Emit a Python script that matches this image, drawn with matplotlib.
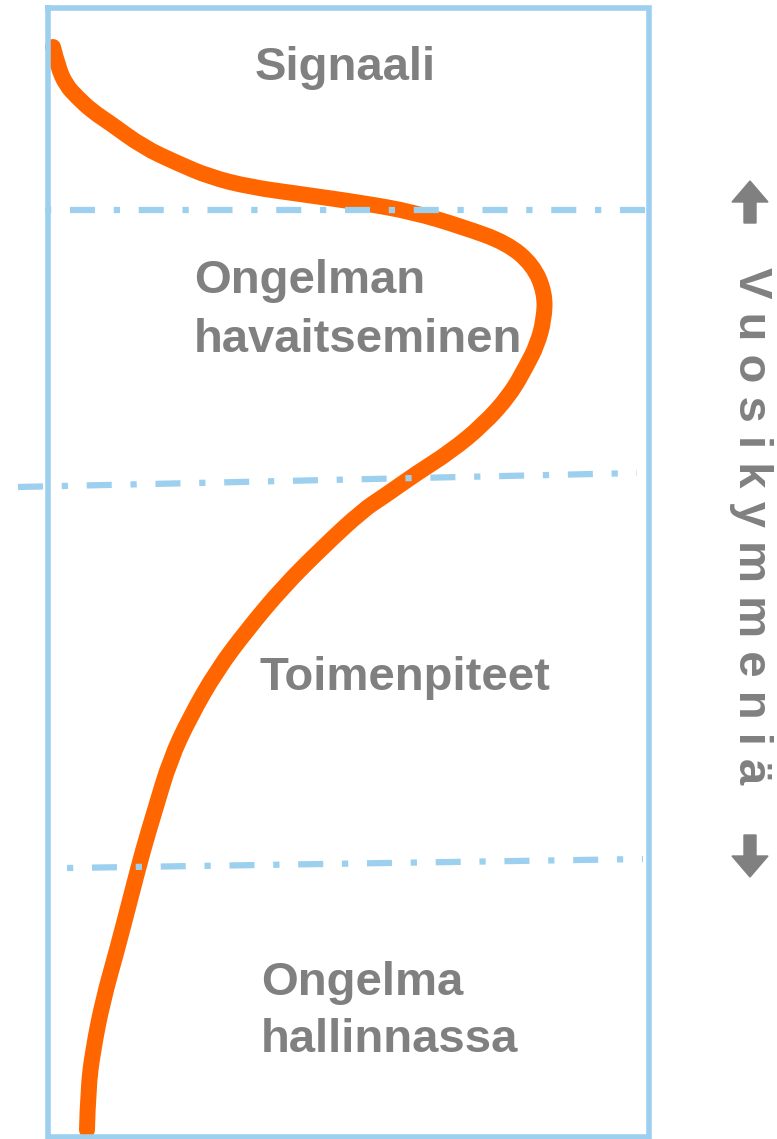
import matplotlib.pyplot as plt
from matplotlib.path import Path
from matplotlib.patches import PathPatch

# curve (x, y), y grows downwards
curve_x = [53, 58, 66, 77, 92, 110, 143, 177, 210, 250, 300, 363, 413, 463, 507, 533, 545,
           544, 537, 527, 510, 483, 450, 417, 383, 363, 323, 283, 247, 217, 190, 170, 155,
           143, 130, 117, 103, 93, 88, 87]
curve_y = [47, 67, 85, 97, 111, 123, 147, 163, 177, 187, 194, 203, 212, 227, 243, 265, 293,
           320, 345, 365, 395, 425, 452, 473, 497, 510, 547, 587, 630, 670, 717, 760, 810,
           850, 900, 950, 1000, 1050, 1090, 1130]

# phase boundaries: (x0, y0, x1, y1, dash offset)
bounds = [(45, 210, 649, 210, 7),
          (18, 487, 637, 473, 0),
          (67, 868, 643, 859, 7)]

box_x = [48, 649, 649, 48, 48]
box_y = [8, 8, 1137, 1137, 8]

labels = ['Signaali', 'Ongelman', 'havaitseminen', 'Toimenpiteet', 'Ongelma', 'hallinnassa']
label_x = [255, 194, 194, 260, 261, 261]
label_y = [80, 293, 352, 690, 995, 1052]

side_text = 'V u o s i k y m m e n i ä'

BLUE = '#9DCFEE'
ORANGE = '#FF6600'
GRAY = '#808080'

plt.rcParams['font.family'] = ['Liberation Sans', 'DejaVu Sans']

fig = plt.figure(figsize=(7.77, 11.39), dpi=100)
ax = fig.add_axes([0, 0, 1, 1])
ax.set_xlim(0, 777)
ax.set_ylim(1139, 0)
ax.axis('off')

ax.plot(box_x, box_y, color=BLUE, lw=4.0, solid_joinstyle='miter')

for x0, y0, x1, y1, off in bounds:
    ax.plot([x0, x1], [y0, y1], color=BLUE, lw=4.5,
            linestyle=(off, (4, 3, 1, 3)), dash_capstyle='butt')

# smooth the curve with quadratic beziers through the midpoints
pts = list(zip(curve_x, curve_y))
verts = [pts[0]]
codes = [Path.MOVETO]
for i in range(1, len(pts) - 2):
    mid = ((pts[i][0] + pts[i + 1][0]) / 2, (pts[i][1] + pts[i + 1][1]) / 2)
    verts += [pts[i], mid]
    codes += [Path.CURVE3, Path.CURVE3]
verts += [pts[-2], pts[-1]]
codes += [Path.CURVE3, Path.CURVE3]
ax.add_patch(PathPatch(Path(verts, codes), fill=False, edgecolor=ORANGE, lw=11.5,
                       capstyle='round', joinstyle='round'))

for txt, x, y in zip(labels, label_x, label_y):
    ax.text(x, y, txt, fontsize=34, fontweight='bold', color=GRAY,
            ha='left', va='baseline')

# vertical label with arrows
ax.text(751, 526, side_text, fontsize=34, fontweight='bold', color=GRAY,
        rotation=-90, ha='center', va='center')
ax.arrow(750, 223, 0, -21, width=12, head_width=36, head_length=21,
         color=GRAY, length_includes_head=False)
ax.arrow(750, 835, 0, 21, width=12, head_width=36, head_length=21,
         color=GRAY, length_includes_head=False)

fig.savefig('out.png', dpi=100)
